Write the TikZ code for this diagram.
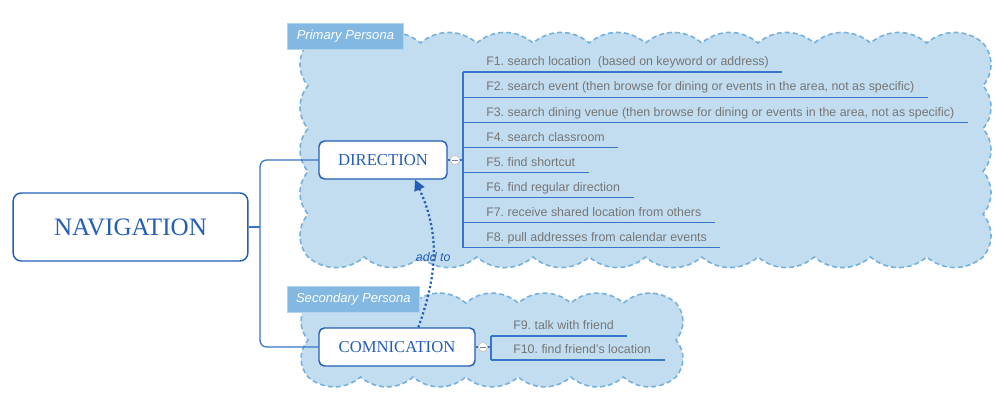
\documentclass[tikz,border=0pt]{standalone}
\usepackage{fontspec}
\setmainfont{Liberation Serif}
\setsansfont{Liberation Sans}
\usetikzlibrary{arrows.meta}
\definecolor{topicblue}{RGB}{36,94,182}
\definecolor{linkblue}{RGB}{56,116,200}
\definecolor{cloudfill}{RGB}{194,221,240}
\definecolor{clouddash}{RGB}{118,176,220}
\definecolor{tagfill}{RGB}{130,184,225}
\definecolor{itemgray}{RGB}{118,118,118}
\frenchspacing

\begin{document}
\begin{tikzpicture}[x=0.75pt,y=-0.75pt,
  topic/.style={draw=topicblue, line width=1.1pt, fill=white, rounded corners=4pt, text=topicblue, inner sep=0pt, font=\fontsize{12.5}{14}\selectfont},
  item/.style={anchor=south west, text depth=0pt, inner xsep=0pt, inner ysep=4.5pt, text=itemgray, font=\sffamily\fontsize{9.3}{10}\selectfont},
  link/.style={draw=linkblue, line width=1pt},
  cloudy/.style={fill=cloudfill, draw=clouddash, line width=1.2pt, dash pattern=on 3.6pt off 2.4pt},
  tag/.style={anchor=north west, fill=tagfill, draw=tagfill!60!white, line width=0.6pt, text=white, inner sep=0pt, minimum height=19.5pt, font=\sffamily\itshape\fontsize{9.8}{10}\selectfont},
  fold/.style={circle, draw=gray!45, fill=white, line width=0.6pt, inner sep=0pt, minimum size=7pt},
  addto/.style={draw=topicblue, line width=1.7pt, dash pattern=on 1.6pt off 1.8pt, -{Triangle[length=8pt,width=8pt]}}
]
\useasboundingbox (0,0) rectangle (1000,403);

\draw[cloudy] (308,43)
  \foreach \i in {1,...,12} {to[out=40,in=140] ++(56.25,0)}
  \foreach \i in {1,...,5} {to[out=-50,in=50] ++(0,42.8)}
  \foreach \i in {1,...,12} {to[out=-140,in=-40] ++(-56.25,0)}
  \foreach \i in {1,...,5} {to[out=130,in=230] ++(0,-42.8)} -- cycle;
\draw[cloudy] (308,303)
  \foreach \i in {1,...,7} {to[out=40,in=140] ++(52.571,0)}
  \foreach \i in {1,2} {to[out=-50,in=50] ++(0,37)}
  \foreach \i in {1,...,7} {to[out=-140,in=-40] ++(-52.571,0)}
  \foreach \i in {1,2} {to[out=130,in=230] ++(0,-37)} -- cycle;

\node[tag, minimum width=87pt] (ptag) at (287,23) {Primary Persona};
\node[tag, minimum width=99pt] (stag) at (287,286) {Secondary Persona};

\node[topic, minimum width=176pt, minimum height=51pt, rounded corners=6pt, font=\fontsize{18.8}{20}\selectfont] (nav) at (130.5,227) {NAVIGATION};
\node[topic, minimum width=96pt, minimum height=28.5pt] (dir) at (383,160) {DIRECTION};
\node[topic, minimum width=117pt, minimum height=28.5pt] (com) at (397,347) {COMNICATION};

\coordinate (hub) at (260,227);
\draw[link] (nav.east) -- (hub);
\draw[link, rounded corners=5pt] (dir.west) -| (hub) |- (com.west);

\coordinate (dspine) at (463,0);
\foreach \t [count=\i] in {F1. search location~ (based on keyword or address),
  {F2. search event (then browse for dining or events in the area, not as specific)},
  {F3. search dining venue (then browse for dining or events in the area, not as specific)},
  F4. search classroom, F5. find shortcut, F6. find regular direction,
  F7. receive shared location from others, F8. pull addresses from calendar events}{
  \node[item] (f\i) at (486,47+25.1*\i) {\t};
  \draw[link] (f\i.south west -| dspine) -- ([xshift=10pt]f\i.south east);
}
\draw[link] (f1.south west -| dspine) -- (f8.south west -| dspine);
\node[fold] (dfold) at (455,160) {};
\draw[link] (dir.east) -- (dfold);
\draw[link] (dfold) -- (dfold -| dspine);
\draw[gray, line width=0.6pt] ([xshift=-2pt]dfold.center) -- ([xshift=2pt]dfold.center);

\coordinate (cspine) at (491,0);
\node[item] (f9) at (513,336) {F9. talk with friend};
\node[item] (f10) at (513,360) {F10. find friend's location};
\draw[link] (f9.south west -| cspine) -- ([xshift=10pt]f9.south east);
\draw[link] (f10.south west -| cspine) -- ([xshift=10pt]f10.south east);
\draw[link] (f9.south west -| cspine) -- (f10.south west -| cspine);
\node[fold] (cfold) at (483,347) {};
\draw[link] (com.east) -- (cfold);
\draw[link] (cfold) -- (cfold -| cspine);
\draw[gray, line width=0.6pt] ([xshift=-2pt]cfold.center) -- ([xshift=2pt]cfold.center);

\draw[addto] ([xshift=16pt]com.north) to[out=70,in=-65]
  node[pos=0.47, text=topicblue, font=\sffamily\itshape\fontsize{9.3}{10}\selectfont] (addlbl) {add to}
  ([xshift=24pt]dir.south);
\end{tikzpicture}
\end{document}
